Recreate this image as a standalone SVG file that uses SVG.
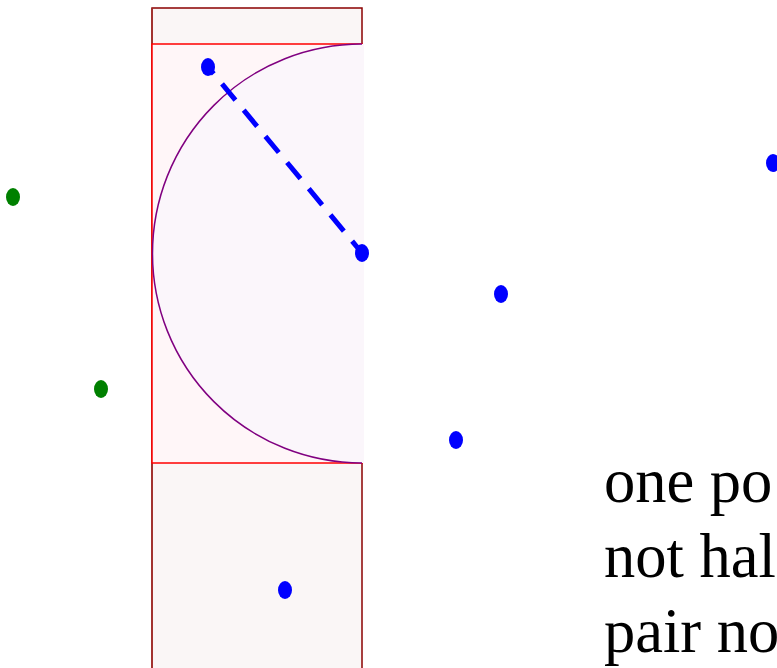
<svg xmlns="http://www.w3.org/2000/svg" width="777" height="668" viewBox="0 0 777 668">
<style>
.blue{fill:#0000ff}
.green{fill:#008000}
.lbl{font-family:"Liberation Serif","Times New Roman",serif;font-size:62.5px;fill:#000}
</style>
<rect width="777" height="668" fill="#ffffff"/>
<g id="outer-box">
<rect x="152" y="8" width="210" height="700" fill="#faf6f6" stroke="#8b0000" stroke-width="1.5"/>
<line x1="152" y1="8" x2="152" y2="668" stroke="#a0302d" stroke-width="1.5"/>
</g>
<g id="inner-box">
<rect x="152" y="44" width="210" height="419" fill="#fff6f8" stroke="#ff0000" stroke-width="1.5"/>
</g>
<g id="half-disc">
<path d="M362,44 A209.5,209.5 0 0 0 362,463 L364,463 L364,44 Z" fill="#fbf6fb"/>
<path d="M362,44 A209.5,209.5 0 0 0 362,463" fill="none" stroke="#800080" stroke-width="1.5"/>
</g>
<g id="connectors">
<line x1="208" y1="67" x2="362" y2="253" stroke="#0000ff" stroke-width="5" stroke-dasharray="21 13" stroke-dashoffset="12"/>
</g>
<g id="points">
<ellipse class="green" cx="13" cy="197" rx="7" ry="9"/>
<ellipse class="green" cx="101" cy="389" rx="7" ry="9"/>
<ellipse class="blue" cx="208" cy="67" rx="7" ry="9"/>
<ellipse class="blue" cx="362" cy="253" rx="7" ry="9"/>
<ellipse class="blue" cx="501" cy="294" rx="7" ry="9"/>
<ellipse class="blue" cx="456" cy="440" rx="7" ry="9"/>
<ellipse class="blue" cx="285" cy="590" rx="7" ry="9"/>
<ellipse class="blue" cx="773" cy="163" rx="7" ry="9"/>
</g>
<g id="caption">
<text class="lbl" x="604" y="502">one po</text>
<text class="lbl" x="604" y="577">not hal</text>
<text class="lbl" x="604" y="652">pair no</text>
</g>
</svg>
